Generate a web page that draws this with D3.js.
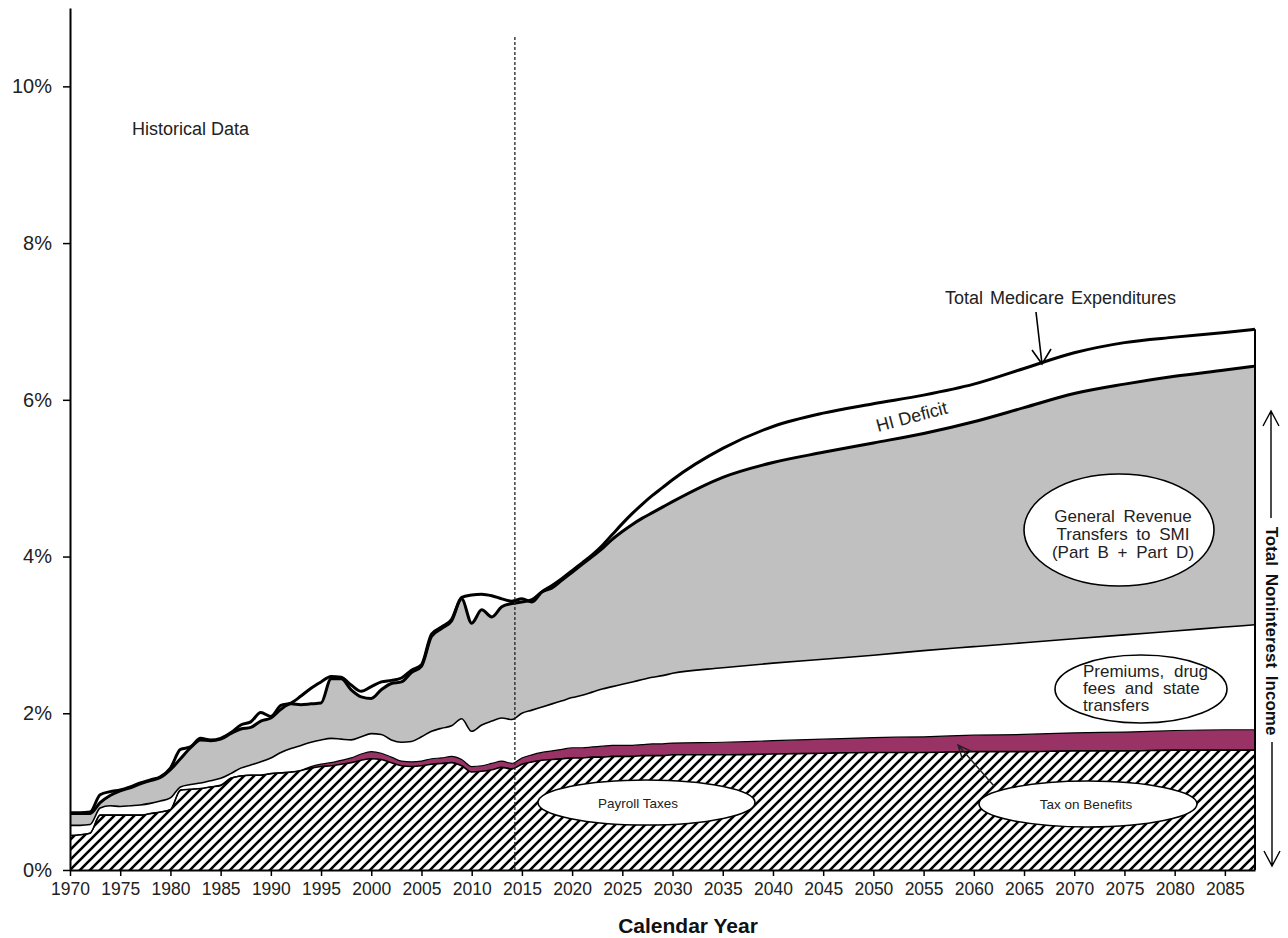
<!DOCTYPE html>
<html><head><meta charset="utf-8">
<script src="https://cdn.jsdelivr.net/npm/d3@7"></script>
<style>
body{margin:0;background:#fff;}
svg{display:block;font-family:"Liberation Sans",Arial,sans-serif;}
.narrow{font-family:"Liberation Sans Narrow","Arial Narrow","Liberation Sans",Arial,sans-serif;}
</style></head><body>
<svg id="chart" width="1288" height="938"></svg>
<script>
// ---- data (percent of GDP) ----
const years = [1970,1971,1972,1973,1974,1975,1976,1977,1978,1979,1980,1981,1982,1983,1984,1985,1986,1987,1988,1989,
  1990,1991,1992,1993,1994,1995,1996,1997,1998,1999,2000,2001,2002,2003,2004,2005,2006,2007,2008,2009,
  2010,2011,2012,2013,2014,2015,2016,2017,2018,2019,2020,2021,2022,2023,2024,2025,2026,2027,2028,2029,
  2030,2035,2040,2045,2050,2055,2060,2065,2070,2075,2080,2085,2088];
const payrollTaxes = [0.44,0.45,0.47,0.70,0.70,0.70,0.70,0.70,0.72,0.74,0.77,1.02,1.03,1.04,1.06,1.08,1.17,1.20,1.21,1.21,
  1.23,1.24,1.25,1.27,1.30,1.32,1.33,1.35,1.37,1.40,1.42,1.41,1.37,1.33,1.32,1.33,1.35,1.36,1.37,1.33,
  1.25,1.26,1.28,1.31,1.29,1.35,1.38,1.40,1.41,1.42,1.43,1.43,1.44,1.44,1.45,1.45,1.45,1.46,1.46,1.46,
  1.47,1.47,1.48,1.49,1.50,1.50,1.51,1.51,1.52,1.52,1.53,1.53,1.53];
const taxOnBenefits = [0,0,0,0,0,0,0,0,0,0,0,0,0,0,0,0,0,0,0,0,
  0,0,0,0,0.02,0.03,0.04,0.05,0.06,0.08,0.09,0.08,0.07,0.06,0.06,0.06,0.07,0.07,0.08,0.08,
  0.07,0.07,0.08,0.08,0.07,0.08,0.09,0.10,0.11,0.12,0.13,0.13,0.13,0.14,0.14,0.14,0.14,0.14,0.15,0.15,
  0.15,0.16,0.17,0.18,0.19,0.20,0.21,0.22,0.23,0.24,0.25,0.26,0.26];
const premiumsDrugFeesState = [0.13,0.12,0.11,0.09,0.12,0.11,0.12,0.13,0.13,0.14,0.15,0.04,0.06,0.07,0.08,0.09,0.06,0.10,0.13,0.17,
  0.20,0.26,0.30,0.32,0.31,0.31,0.31,0.27,0.23,0.22,0.23,0.24,0.22,0.24,0.26,0.31,0.35,0.38,0.39,0.52,
  0.45,0.52,0.54,0.55,0.56,0.57,0.57,0.58,0.60,0.62,0.64,0.67,0.70,0.73,0.75,0.78,0.81,0.83,0.85,0.87,
  0.89,0.95,0.99,1.02,1.05,1.10,1.13,1.17,1.20,1.24,1.27,1.31,1.34];
const generalRevenueSMI = [0.15,0.15,0.14,0.07,0.13,0.20,0.23,0.27,0.29,0.30,0.36,0.36,0.47,0.55,0.51,0.50,0.51,0.50,0.48,0.52,
  0.51,0.55,0.57,0.52,0.49,0.47,0.76,0.77,0.64,0.51,0.45,0.57,0.72,0.77,0.88,0.90,1.21,1.27,1.34,1.53,
  1.38,1.47,1.33,1.42,1.48,1.42,1.41,1.47,1.48,1.54,1.60,1.67,1.73,1.79,1.88,1.95,2.01,2.06,2.10,2.15,
  2.19,2.43,2.56,2.64,2.71,2.77,2.87,3.00,3.13,3.20,3.25,3.28,3.30];
const totalExpenditures = [0.73,0.73,0.74,0.96,1.00,1.02,1.06,1.11,1.15,1.19,1.30,1.54,1.57,1.68,1.66,1.68,1.75,1.85,1.89,2.01,
  1.96,2.10,2.13,2.22,2.32,2.40,2.47,2.46,2.36,2.28,2.34,2.40,2.42,2.45,2.55,2.62,3.01,3.10,3.20,3.48,
  3.51,3.52,3.50,3.46,3.43,3.46,3.42,3.55,3.63,3.72,3.82,3.92,4.02,4.14,4.28,4.42,4.55,4.67,4.78,4.88,
  4.98,5.38,5.66,5.83,5.95,6.06,6.20,6.40,6.60,6.73,6.80,6.86,6.90];
const xTickYears = [1970,1975,1980,1985,1990,1995,2000,2005,2010,2015,2020,2025,2030,2035,2040,2045,2050,2055,2060,2065,2070,2075,2080,2085];
const yTickValues = [0,2,4,6,8,10];
const projectionStart = 2014.3;
const layerKeys = ["payroll","tob","prem","gen"];

// ---- chart ----
const svg = d3.select("#chart");
const x = d3.scaleLinear().domain([1970, 2088]).range([70, 1255]);
const y = d3.scaleLinear().domain([0, 11]).range([870, 8]);

const rows = years.map((yr,i)=>({year:yr, payroll:payrollTaxes[i], tob:taxOnBenefits[i],
  prem:premiumsDrugFeesState[i], gen:generalRevenueSMI[i], exp:totalExpenditures[i]}));
const series = d3.stack().keys(layerKeys)(rows);

const defs = svg.append("defs");
const pat = defs.append("pattern").attr("id","hatch").attr("patternUnits","userSpaceOnUse")
  .attr("width",10).attr("height",10);
pat.append("rect").attr("width",10).attr("height",10).attr("fill","#fff");
pat.append("path").attr("d","M-2.5,2.5 L2.5,-2.5 M0,10 L10,0 M7.5,12.5 L12.5,7.5")
  .attr("stroke","#000").attr("stroke-width",2.6);

const fills = {payroll:"url(#hatch)", tob:"#993366", prem:"#ffffff", gen:"#c0c0c0"};
const area = d3.area().x(d=>x(d.data.year)).y0(d=>y(d[0])).y1(d=>y(d[1])).curve(d3.curveMonotoneX);
svg.append("g").selectAll("path").data(series).join("path")
  .attr("d", area).attr("fill", d=>fills[d.key]);

const topLine = d3.line().x(d=>x(d.data.year)).y(d=>y(d[1])).curve(d3.curveMonotoneX);
const widths = {payroll:1.6, tob:1.2, prem:1.6, gen:3};
svg.append("g").selectAll("path").data(series).join("path")
  .attr("d", topLine).attr("fill","none").attr("stroke","#000")
  .attr("stroke-width", d=>widths[d.key]).attr("stroke-linejoin","round");

const expLine = d3.line().x(d=>x(d.year)).y(d=>y(d.exp)).curve(d3.curveMonotoneX);
svg.append("path").datum(rows).attr("d", expLine).attr("fill","none")
  .attr("stroke","#000").attr("stroke-width",3).attr("stroke-linejoin","round");

// right edge
const last = rows[rows.length-1];
svg.append("line").attr("x1",x(last.year)).attr("x2",x(last.year))
  .attr("y1",y(last.exp)).attr("y2",y(0)).attr("stroke","#000").attr("stroke-width",2);

// projection divider
svg.append("line").attr("x1",x(projectionStart)).attr("x2",x(projectionStart))
  .attr("y1",y(10.63)).attr("y2",y(0)).attr("stroke","#222").attr("stroke-width",1.3)
  .attr("stroke-dasharray","3,2");

// axes
const gx = svg.append("g").attr("transform",`translate(0,${y(0)})`)
  .call(d3.axisBottom(x).tickValues(xTickYears).tickFormat(d3.format("d")).tickSize(6).tickPadding(7).tickSizeOuter(0));
gx.select(".domain").attr("stroke","#000").attr("stroke-width",2);
gx.selectAll(".tick line").attr("stroke","#000").attr("stroke-width",1.5);
gx.selectAll("text").attr("font-size",17.5).attr("fill","#222");

const gy = svg.append("g").attr("transform",`translate(${x(1970)},0)`)
  .call(d3.axisLeft(y).tickValues(yTickValues).tickFormat(d=>d+"%").tickSize(7).tickPadding(11).tickSizeOuter(0));
gy.select(".domain").attr("stroke","#000").attr("stroke-width",2);
gy.selectAll(".tick line").attr("stroke","#000").attr("stroke-width",1.5);
gy.selectAll("text").attr("font-size",20).attr("fill","#222");

svg.append("text").attr("x",688).attr("y",933).attr("text-anchor","middle")
  .attr("font-size",21).attr("font-weight","bold").attr("fill","#111").text("Calendar Year");

// annotations
const ann = svg.append("g").attr("fill","#222");
ann.append("text").attr("x",132).attr("y",135).attr("font-size",18).text("Historical Data");
ann.append("text").attr("x",945).attr("y",304).attr("font-size",18).attr("word-spacing",2).text("Total Medicare Expenditures");
svg.append("path").attr("d","M1036,312 L1042,364 M1032,350 L1042,364 L1051,349")
  .attr("fill","none").attr("stroke","#000").attr("stroke-width",1.6);
ann.append("text").attr("transform","translate(878,432) rotate(-15)").attr("font-size",18).text("HI Deficit");

function ellipse(cx,cy,rx,ry){
  svg.append("ellipse").attr("cx",cx).attr("cy",cy).attr("rx",rx).attr("ry",ry)
    .attr("fill","#fff").attr("stroke","#000").attr("stroke-width",1.6);
}
ellipse(1119,530,95,56);
const g1 = svg.append("text").attr("class","narrow").attr("text-anchor","middle").attr("font-size",17)
  .attr("word-spacing",4).attr("fill","#222");
[["General Revenue",522],["Transfers to SMI",540],["(Part B + Part D)",558]].forEach(([t,yy])=>
  g1.append("tspan").attr("x",1123).attr("y",yy).text(t));

ellipse(1141,689,86,34);
const g2 = svg.append("text").attr("class","narrow").attr("font-size",17)
  .attr("word-spacing",5).attr("fill","#222");
[["Premiums, drug",677],["fees and state",694],["transfers",711]].forEach(([t,yy])=>
  g2.append("tspan").attr("x",1083).attr("y",yy).text(t));

ellipse(1088,804,109,23);
svg.append("text").attr("x",1086).attr("y",809).attr("text-anchor","middle").attr("font-size",13.5)
  .attr("fill","#222").text("Tax on Benefits");
svg.append("path").attr("d","M994,786 L958,745 M971.5,751.5 L958,745 L962.5,759.5")
  .attr("fill","none").attr("stroke","#222").attr("stroke-width",1.4);

ellipse(646.5,802.5,108.5,22.5);
svg.append("text").attr("x",638).attr("y",808).attr("text-anchor","middle").attr("font-size",13.5)
  .attr("fill","#222").text("Payroll Taxes");

// total noninterest income bracket
svg.append("text").attr("transform","translate(1272,631) rotate(90)").attr("text-anchor","middle")
  .attr("dy","0.35em").attr("font-size",17).attr("font-weight","bold").attr("word-spacing",3)
  .attr("fill","#111").text("Total Noninterest Income");
svg.append("path").attr("d","M1271,518 L1271,411 M1263,426 L1271,411 L1279,426 M1272,742 L1272,866 M1264,851 L1272,866 L1280,851")
  .attr("fill","none").attr("stroke","#000").attr("stroke-width",1.4);
</script>
</body></html>
